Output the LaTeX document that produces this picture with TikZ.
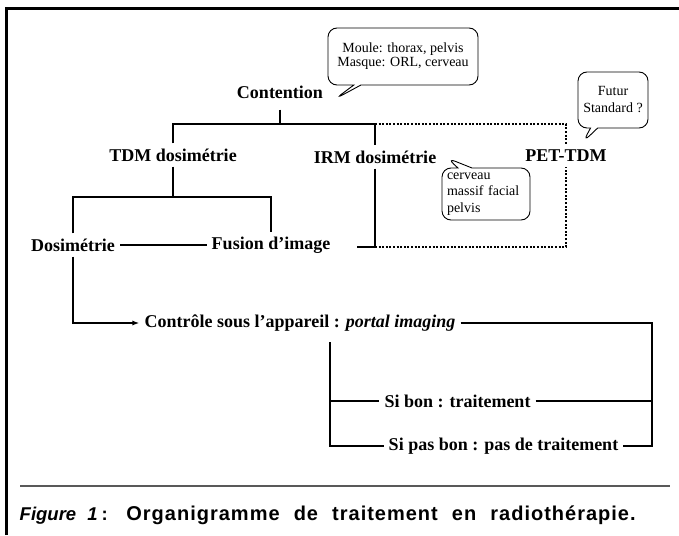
\documentclass[tikz,border=0pt]{standalone}
\usepackage{fontspec}
\setmainfont{Liberation Serif}
\newfontfamily\legendefont{Liberation Sans}
\usepackage{tikz}
\usetikzlibrary{arrows.meta, positioning, shapes.callouts, calc}

\begin{document}
\begin{tikzpicture}[x=1pt, y=-1pt,
	lab/.style={font=\bfseries\fontsize{18}{20}\selectfont, inner sep=5pt},
	trait/.style={draw=black, line width=1.7pt},
	pointille/.style={draw=black, line width=1.5pt, dash pattern=on 2pt off 1.6pt},
	bulle/.style={rectangle callout, draw=black, line width=0.9pt, rounded corners=9pt,
		font=\fontsize{14}{14}\selectfont, align=center, inner sep=0pt},
	cadre/.style={draw=black, line width=2.6pt},
	legende/.style={font=\legendefont\bfseries\fontsize{20}{22}\selectfont, inner sep=0pt}
	]
	\useasboundingbox (0,0) rectangle (679,535);
	\draw[cadre] (6.5,535) -- (6.5,8.5) -- (679,8.5);
	\draw[black!65, line width=1.3pt] (20,486) -- (670,486);

	% les etiquettes de l'organigramme
	\foreach \nom/\x/\y/\txt in {cont/280/92/Contention, tdm/173/155/TDM dosimétrie,
		irm/375/157/IRM dosimétrie, pet/566/156/PET-TDM, dosi/73/245/Dosimétrie,
		fus/271/245/Fusion d’image, ctrl/300/323/Contrôle sous l’appareil : \textit{portal imaging},
		bon/457.5/401/Si bon : traitement, pasbon/503.5/446/Si pas bon : pas de traitement}{
		\node[lab] (\nom) at (\x,\y) {\txt};
	}
	\coordinate (a1) at (178,124);
	\coordinate (b1) at (178,197);
	\coordinate (c1) at (357,247);
	\coordinate (d1) at (652,323);
	\coordinate (e1) at (330,342);

	% branches
	\draw[trait] ([yshift=-6pt]cont.south) -- (cont.south |- a1);
	\draw[trait] (tdm.north) -- (tdm.north |- a1) -- (irm.north |- a1) -- (irm.north);
	\draw[pointille] (irm.north |- a1) -| (pet.north);
	\draw[trait] (tdm.south) -- (tdm.south |- b1);
	\draw[trait] (dosi.north) |- (fus.north |- b1) -- (fus.north);
	\draw[trait] (dosi.east) -- (fus.west);
	\draw[trait] (irm.south) |- (c1);
	\draw[pointille] (irm.south |- c1) -| (pet.south);
	\draw[trait, -{Latex[length=7pt, width=5pt]}] (dosi.south) |- (ctrl.west);
	\draw[trait] (ctrl.east) -- (d1) |- (pasbon.east);
	\draw[trait] (bon.east) -- (bon.east -| d1);
	\draw[trait] (e1) |- (pasbon.west);
	\draw[trait] (e1 |- bon) -- (bon.west);

	% bulles
	\node[bulle, minimum width=150pt, minimum height=57pt,
		callout absolute pointer={(335,99)}] (bulle1) at (403,56.5)
		{Moule: thorax, pelvis\\Masque: ORL, cerveau};
	\node[bulle, minimum width=70pt, minimum height=56pt, font=\fontsize{14}{17}\selectfont,
		callout absolute pointer={(583,142)}] (bulle2) at (613,100)
		{Futur\\Standard ?};
	\node[bulle, minimum width=88pt, minimum height=52pt, align=left, text width=78pt,
		font=\fontsize{14}{16.5}\selectfont, callout pointer width=14pt,
		callout absolute pointer={(447,158)}] (bulle3) at (486,194)
		{cerveau\\massif facial\\pelvis};

	\node[legende, anchor=base west] (fig) at (19.5,520)
		{\makebox[616pt][s]{\fontsize{18.5}{22}\selectfont\textit{Figure 1}\kern4pt: {\fontsize{20}{22}\selectfont\addfontfeature{LetterSpace=5}Organigramme de traitement en radiothérapie.}}};
\end{tikzpicture}
\end{document}
